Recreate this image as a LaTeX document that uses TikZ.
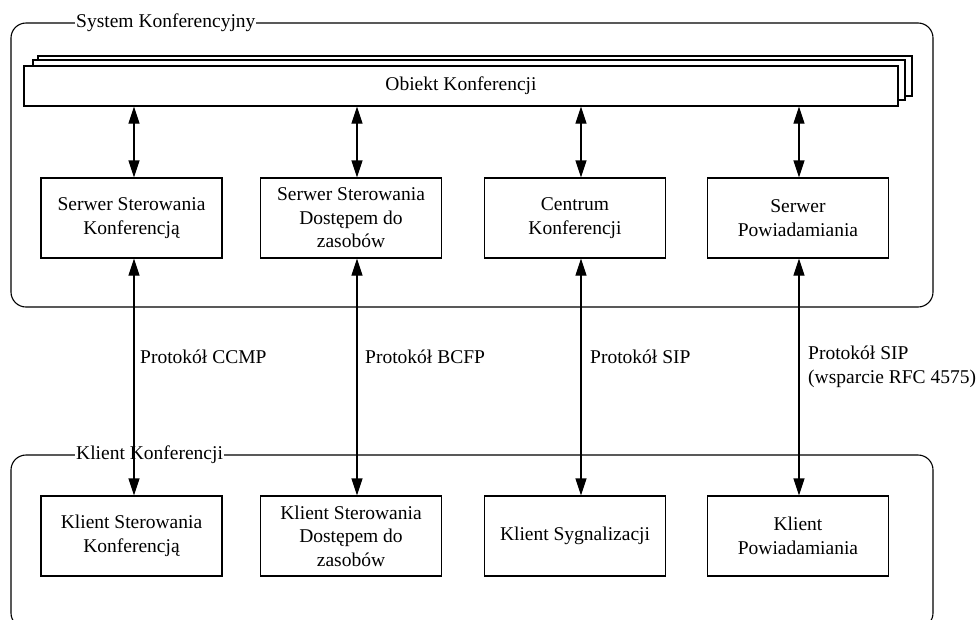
\documentclass[tikz,border=0pt]{standalone}
\usepackage{fontspec}
\setmainfont{Liberation Serif}
\usetikzlibrary{arrows.meta}
\begin{document}
\begin{tikzpicture}[x=1pt,y=-1pt,
  every node/.style={font=\fontsize{19.5}{23.5}\selectfont},
  container/.style={draw,line width=1.1pt,rounded corners=15pt},
  grouplabel/.style={fill=white,inner xsep=1pt,inner ysep=1pt,anchor=west},
  unitbox/.style={draw,fill=white,line width=1.1pt,minimum width=181pt,minimum height=80pt,align=center,inner sep=2pt},
  stackbox/.style={draw,fill=white,line width=1.1pt,minimum width=874pt,minimum height=40pt,inner sep=0pt},
  biarrow/.style={line width=1.1pt,{Triangle[width=11pt,length=17pt]}-{Triangle[width=11pt,length=17pt]}},
  protolabel/.style={anchor=west,align=left,inner sep=0pt}]
\useasboundingbox (0,0) rectangle (977,619);
\clip (0,0) rectangle (977,619);
% containers
\draw[container] (11,23) rectangle (933,307);
\node[grouplabel] (syslabel) at (75,23) {System Konferencyjny};
\draw[container] (11,455) rectangle (933,628);
\node[grouplabel] (clilabel) at (75,455) {Klient Konferencji};
% stacked conference object
\node[stackbox] (obj3) at (475,76) {};
\node[stackbox,minimum width=872pt] (obj2) at (469,80) {};
\node[stackbox] (obj) at (461,86) {Obiekt Konferencji};
% servers
\node[unitbox] (srv1) at (131.5,218) {Serwer Sterowania\\Konferencją};
\node[unitbox] (srv2) at (351,218) {Serwer Sterowania\\Dostępem do\\zasobów};
\node[unitbox] (srv3) at (575,218) {Centrum\\Konferencji};
\node[unitbox] (srv4) at (798,218) {Serwer\\Powiadamiania};
% clients
\node[unitbox] (cli1) at (131.5,536) {Klient Sterowania\\Konferencją};
\node[unitbox] (cli2) at (351,536) {Klient Sterowania\\Dostępem do\\zasobów};
\node[unitbox] (cli3) at (575,536) {Klient Sygnalizacji};
\node[unitbox] (cli4) at (798,536) {Klient\\Powiadamiania};
% arrows object <-> servers
\foreach \i/\dx in {1/2.5,2/6,3/6,4/1}{
  \draw[biarrow] ([xshift=\dx pt]srv\i.north |- obj.south) -- ([xshift=\dx pt]srv\i.north);
  \draw[biarrow] ([xshift=\dx pt]srv\i.south) -- ([xshift=\dx pt]cli\i.north);
}
% protocol labels
\node[protolabel] (p1) at (140,357) {Protokół CCMP};
\node[protolabel] (p2) at (365,357) {Protokół BCFP};
\node[protolabel] (p3) at (590,357) {Protokół SIP};
\node[protolabel] (p4) at (808,367) {Protokół SIP\\(wsparcie RFC 4575)};
\end{tikzpicture}
\end{document}
